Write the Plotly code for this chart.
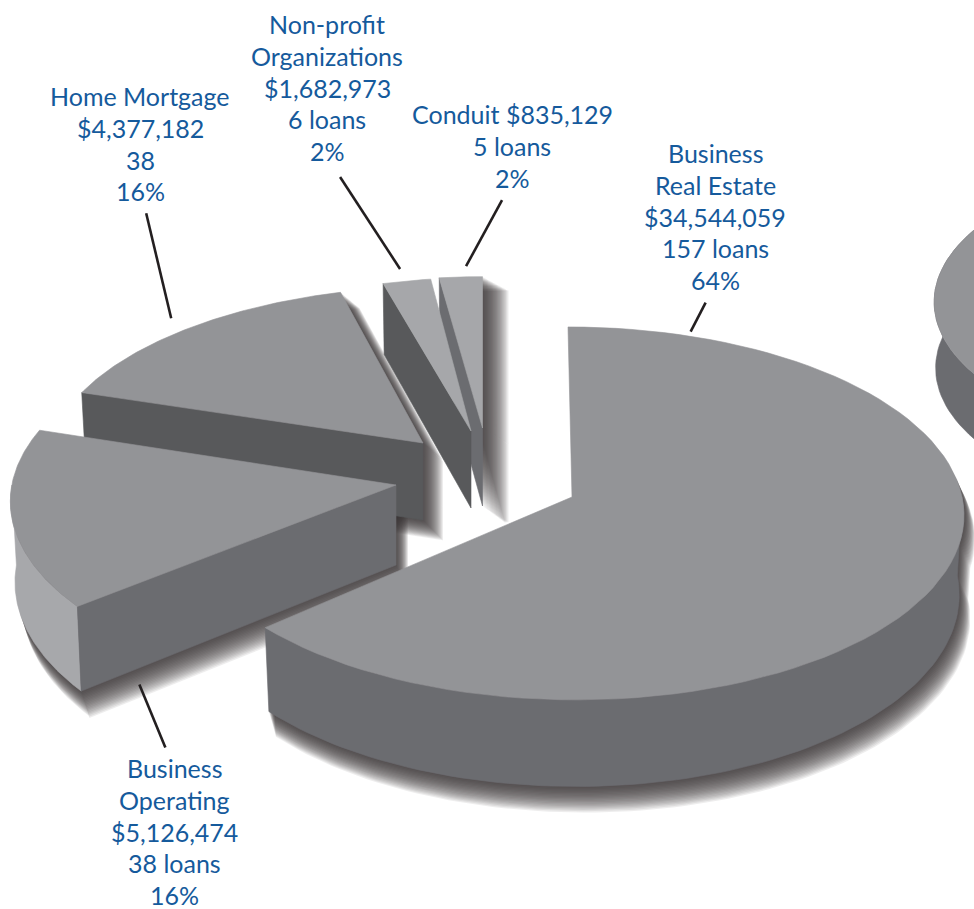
import numpy as np
import plotly.graph_objects as go

# Loan portfolio by purpose
categories = ["Business Real Estate", "Business Operating", "Home Mortgage",
              "Non-profit Organizations", "Conduit"]
loan_counts = [157, 38, 38, 6, 5]
label_lines = [
    ["Business", "Real Estate", "$34,544,059", "157 loans", "64%"],
    ["Business", "Operating", "$5,126,474", "38 loans", "16%"],
    ["Home Mortgage", "$4,377,182", "38", "16%"],
    ["Non-profit", "Organizations", "$1,682,973", "6 loans", "2%"],
    ["Conduit $835,129", "5 loans", "2%"],
]

# Projection of the tilted disc
RX, RY, PERSP = 392.0, 185.0, 0.088
INK, TOP, TOP_LIGHT = "#155a9c", "#939497", "#a6a7aa"
WALL, WALL_DARK, WALL_LIGHT = "#6b6c70", "#58595b", "#a7a8ab"

# apex, radial scales, lean, depth and shadow throw of each exploded slice
SLICE_STYLE = {
    "Business Real Estate": dict(apex=(572, 497), sx=0.995, sy=1.0, lean=-4, depth=79, top=TOP,
                                 cut=None, rim=WALL, rim_from=90, rim_to=None, squeeze=0.9857,
                                 throw=(9, 24)),
    "Business Operating": dict(apex=(396, 485), sx=0.98, sy=1.0, lean=0, depth=80, top=TOP,
                               cut=WALL, rim=WALL_LIGHT, rim_from=None, rim_to=270, squeeze=1.0,
                               throw=(10, 24)),
    "Home Mortgage": dict(apex=(423, 443), sx=0.95, sy=0.92, lean=14, depth=77, top=TOP,
                          cut=WALL_DARK, rim=None, rim_from=None, rim_to=None, squeeze=1.0,
                          throw=(18, 18)),
    "Non-profit Organizations": dict(apex=(471, 431), sx=0.87, sy=0.90, lean=0, depth=77, top=TOP_LIGHT,
                                     cut=WALL_DARK, rim=None, rim_from=None, rim_to=None, squeeze=1.0,
                                     throw=None),
    "Conduit": dict(apex=(482.5, 428), sx=0.935, sy=0.89, lean=0, depth=78, top=TOP_LIGHT,
                    cut=WALL, rim=None, rim_from=None, rim_to=None, squeeze=1.0,
                    throw=(24, 16)),
}
# painter's order: each step casts its listed shadows, then paints its listed slices
PAINT_STEPS = [
    (["Business Operating", "Home Mortgage"], ["Home Mortgage"]),
    (["Conduit"], ["Conduit", "Non-profit Organizations", "Business Operating"]),
    (["Business Real Estate"], ["Business Real Estate"]),
]

# label centre x, centre y of the first line
LABEL_POS = {
    "Business Real Estate": (715, 153),
    "Business Operating": (174, 768),
    "Home Mortgage": (140, 96),
    "Non-profit Organizations": (327, 24),
    "Conduit": (512, 114),
}
LINE_PITCH = 31.8
# leader: position along the arc, radial factor, gap from rim, run to the far end
LEADERS = {
    "Business Real Estate": (0.084, 1.02, (2, -1), (15, -29)),
    "Business Operating": (0.0, 1.0, (62, 78), (26, 63)),
    "Home Mortgage": (0.47, 1.05, (2, -8), (-25, -105)),
    "Non-profit Organizations": (0.5, 1.08, (-2, -1), (-60, -92)),
    "Conduit": (0.6, 1.07, (2, -1), (36, -66)),
}

total = sum(loan_counts)
edges = np.concatenate([[0], np.cumsum(loan_counts)]) * 360.0 / total
sweeps = {c: (edges[i] * SLICE_STYLE[c]["squeeze"], edges[i + 1] * SLICE_STYLE[c]["squeeze"])
          for i, c in enumerate(categories)}


def project(style, theta, radius=1.0, lower=False):
    """Screen position of a rim point; theta runs clockwise from the back of the disc."""
    t = np.radians(np.asarray(theta, dtype=float))
    X, Y = np.sin(t) * radius, np.cos(t) * radius
    s = 1.0 / (1.0 + style.get("persp", PERSP) * Y)
    ax, ay = style["apex"]
    x = RX * X * s * style["sx"] + style["lean"] * Y
    y = -RY * Y * s * style["sy"]
    if lower:
        return ax + x * style.get("taper", 0.988), ay + y + style["depth"] * s
    return ax + x, ay + y


def apex_of(style, lower=False):
    ax, ay = style["apex"]
    return ax, ay + (style["depth"] if lower else 0)


def arc(a, b, n=90):
    return np.linspace(a, b, n)


def top_poly(style, a, b):
    x, y = project(style, arc(a, b))
    ax, ay = apex_of(style)
    return np.r_[ax, x, ax], np.r_[ay, y, ay]


def rim_poly(style, a, b):
    xt, yt = project(style, arc(a, b))
    xb, yb = project(style, arc(b, a), lower=True)
    return np.r_[xt, xb, xt[0]], np.r_[yt, yb, yt[0]]


def cut_poly(style, theta):
    ax, ay = apex_of(style)
    bx, by = apex_of(style, lower=True)
    xt, yt = project(style, theta)
    xb, yb = project(style, theta, lower=True)
    return np.array([ax, xt, xb, bx, ax]), np.array([ay, yt, yb, by, ay])


def faces(style, a, b):
    """(polygon, colour) list for a slice, back faces first."""
    out = []
    if style["rim"]:
        lo = style["rim_from"] if style["rim_from"] is not None else a
        hi = style["rim_to"] if style["rim_to"] is not None else b
        out.append((rim_poly(style, lo, hi), style["rim"]))
    if style["cut"]:
        out.append((cut_poly(style, a), style["cut"]))
    out.append((top_poly(style, a, b), style["top"]))
    return out


def add_polygon(fig, poly, colour):
    fig.add_trace(go.Scatter(x=poly[0], y=poly[1], mode="lines", fill="toself",
                             fillcolor=colour, line=dict(color=colour, width=0.6),
                             hoverinfo="skip", showlegend=False))


def add_shadow(fig, polys, throw, layers=20, strength=0.82):
    """Soft drop shadow: copies slid along the throw, stacked at low opacity."""
    alpha = 1 - (1 - strength) ** (1 / layers)
    for k in np.linspace(0.06, 1.0, layers):
        xs, ys = [], []
        for px, py in polys:
            xs += list(px + throw[0] * k) + [None]
            ys += list(py + throw[1] * k) + [None]
        fig.add_trace(go.Scatter(x=xs, y=ys, mode="lines", fill="toself", fillcolor="#3b3637",
                                 line=dict(color="#3b3637", width=float(k * 4)), opacity=float(alpha),
                                 hoverinfo="skip", showlegend=False))


fig = go.Figure()

# Neighbouring disc running off the right edge
neighbour = dict(apex=(1234, 302), sx=0.765, sy=0.78, lean=0, depth=66, top=TOP, persp=0.0, taper=0.995,
                 cut=None, rim=WALL, rim_from=180, rim_to=360)
add_polygon(fig, rim_poly(neighbour, 180, 360), WALL)
add_polygon(fig, top_poly(neighbour, 0, 360), TOP)

for shadow_names, slice_names in PAINT_STEPS:
    for name in shadow_names:
        style = SLICE_STYLE[name]
        add_shadow(fig, [p for p, _ in faces(style, *sweeps[name])], style["throw"])
    for name in slice_names:
        for poly, colour in faces(SLICE_STYLE[name], *sweeps[name]):
            add_polygon(fig, poly, colour)

annotations = []
for cat, lines in zip(categories, label_lines):
    cx, cy = LABEL_POS[cat]
    for i, line in enumerate(lines):
        annotations.append(dict(x=cx, y=cy + i * LINE_PITCH, xref="x", yref="y",
                                xanchor="center", yanchor="middle", text=line,
                                showarrow=False, font=dict(family="Lato", size=25, color=INK)))

shapes = []
for cat in categories:
    frac, r, gap, run = LEADERS[cat]
    a, b = sweeps[cat]
    nx, ny = project(SLICE_STYLE[cat], a + (b - a) * frac, r)
    nx, ny = float(nx) + gap[0], float(ny) + gap[1]
    shapes.append(dict(type="line", xref="x", yref="y", x0=nx, y0=ny,
                       x1=nx + run[0], y1=ny + run[1],
                       line=dict(color="#231f20", width=2.6)))

fig.update_layout(
    width=974, height=909, margin=dict(l=0, r=0, t=0, b=0),
    paper_bgcolor="white", plot_bgcolor="white", showlegend=False,
    xaxis=dict(range=[0, 974], visible=False, fixedrange=True),
    yaxis=dict(range=[909, 0], visible=False, fixedrange=True),
    annotations=annotations, shapes=shapes,
)
fig.write_html("out.html", config=dict(displayModeBar=False))
